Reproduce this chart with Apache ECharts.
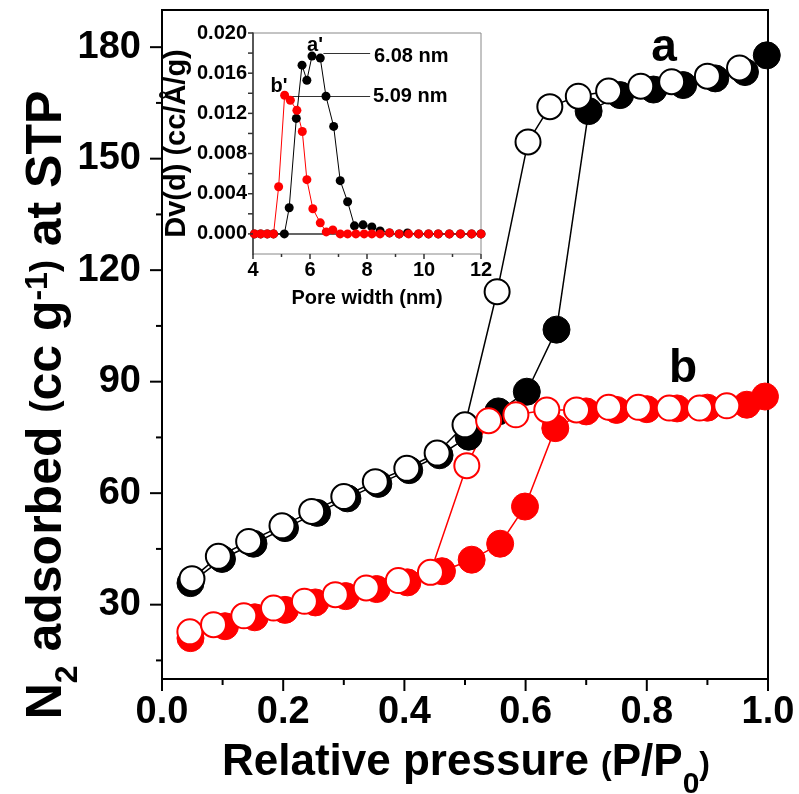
<!DOCTYPE html>
<html>
<head>
<meta charset="utf-8">
<script src="https://cdn.jsdelivr.net/npm/echarts@6/dist/echarts.min.js"></script>
<style>
  html, body { margin: 0; padding: 0; background: #fff; }
  #chart { width: 799px; height: 794px; }
</style>
</head>
<body>
<div id="chart"></div>
<script>
// sample a (black): adsorption = filled, desorption = open
var aAdsP = [0.047,0.099,0.151,0.203,0.256,0.306,0.357,0.408,0.458,0.506,0.555,0.602,0.651,0.704,0.756,0.811,0.86,0.913,0.962,0.998];
var aAdsV = [35.8,42.3,46.4,50.6,54.7,58.6,62.5,66.2,70.2,75.2,82.0,87.3,104.0,162.8,167.1,168.6,169.8,171.6,173.3,177.8];
var aDesP = [0.0495,0.093,0.143,0.198,0.247,0.3,0.352,0.404,0.454,0.5,0.553,0.604,0.64,0.687,0.737,0.79,0.841,0.9,0.953];
var aDesV = [37.0,43.0,47.0,51.2,55.1,59.1,63.1,66.7,70.8,78.4,114.2,154.5,164.0,166.8,168.2,169.5,170.7,172.2,174.4];
// sample b (red)
var bAdsP = [0.047,0.104,0.153,0.203,0.253,0.303,0.354,0.405,0.462,0.511,0.558,0.599,0.649,0.7,0.75,0.8,0.85,0.9,0.965,0.995];
var bAdsV = [21.0,24.2,26.6,28.6,30.6,32.3,34.2,36.0,39.0,42.1,46.4,56.4,77.5,82.0,82.4,82.6,82.8,83.0,83.8,86.0];
var bDesP = [0.046,0.085,0.135,0.184,0.235,0.286,0.337,0.39,0.443,0.503,0.539,0.584,0.635,0.684,0.737,0.786,0.837,0.887,0.932];
var bDesV = [22.7,24.6,27.0,29.1,30.9,32.7,34.5,36.5,38.7,67.4,79.5,81.1,82.4,82.4,83.1,83.1,82.9,82.9,83.5];

// inset: pore size distribution
var poreA = [4.05,4.27,4.5,4.72,5.1,5.27,5.52,5.72,5.89,6.07,6.36,6.56,6.83,7.06,7.32,7.56,7.86,8.17,8.46,8.79,9.13,9.42,9.81,10.16,10.5,10.89,11.28,11.67,12.0];
var dvA   = [0,0,0,0,0,0.0026,0.0115,0.0168,0.0153,0.0177,0.0175,0.0137,0.0107,0.0053,0.0032,0.0008,0.0009,0.0007,0.0003,0.0001,0,0.0001,0,0,0,0,0,0,0];
var poreB = [4.05,4.27,4.5,4.72,4.9,5.11,5.31,5.54,5.73,5.89,6.1,6.36,6.57,6.8,7.06,7.32,7.61,7.9,8.17,8.46,8.79,9.13,9.46,9.81,10.16,10.5,10.89,11.28,11.67,12.0];
var dvB   = [0,0,0,0,0.0047,0.0138,0.0133,0.0123,0.0102,0.0054,0.0025,0.0011,0.0002,0.0004,0,0,0,0,0,0,0.0001,0,0,0,0,0,0,0,0,0];

// tick values
var xMajor = [0,0.2,0.4,0.6,0.8,1.0];
var xMinor = [0.1,0.3,0.5,0.7,0.9];
var yMajor = [30,60,90,120,150,180];
var yMinor = [15,45,75,105,135,165];
var insetXMajor = [4,6,8,10,12];
var insetXMinor = [5,7,9,11];
var insetYLabels = [0,0.004,0.008,0.012,0.016,0.020];
var insetYTicks = [0,0.002,0.004,0.006,0.008,0.010,0.012,0.014,0.016,0.018,0.020];

// arrows in inset: [start x, end x, y]
var arrowA = [6.47, 8.11, 0.0180];
var arrowB = [5.15, 8.11, 0.01373];

function zip(xs, ys) {
    return xs.map(function (x, i) { return [x, ys[i]]; });
}

var FONT = 'Liberation Sans';
var myChart = echarts.init(document.getElementById('chart'));

var labels = [
    {
        type: 'text', x: 52, y: 405, rotation: Math.PI / 2, z: 10,
        style: {
            text: '{t|N}{s|2}{t| adsorbed }{p|(}{t|cc g}{u|-1}{p|)}{t| at STP}',
            align: 'center', verticalAlign: 'middle', fill: '#000',
            rich: {
                t: {fontSize: 50, fontWeight: 'bold', fontFamily: FONT, lineHeight: 60, verticalAlign: 'top'},
                s: {fontSize: 32, fontWeight: 'bold', fontFamily: FONT, lineHeight: 32, verticalAlign: 'top', padding: [30, 0, 0, 0]},
                u: {fontSize: 32, fontWeight: 'bold', fontFamily: FONT, lineHeight: 32, verticalAlign: 'top'},
                p: {fontSize: 36, fontWeight: 'bold', fontFamily: FONT, lineHeight: 60, verticalAlign: 'top', padding: [6, 0, 0, 0]}
            }
        }
    },
    {
        type: 'text', x: 466, y: 768, z: 10,
        style: {
            text: '{t|Relative pressure }{p|(}{t|P/P}{s|0}{p|)}',
            align: 'center', verticalAlign: 'middle', fill: '#000',
            rich: {
                t: {fontSize: 44, fontWeight: 'bold', fontFamily: FONT, lineHeight: 54, verticalAlign: 'top'},
                s: {fontSize: 30, fontWeight: 'bold', fontFamily: FONT, lineHeight: 30, verticalAlign: 'top', padding: [29, 0, 0, 0]},
                p: {fontSize: 32, fontWeight: 'bold', fontFamily: FONT, lineHeight: 54, verticalAlign: 'top', padding: [8, 0, 0, 0]}
            }
        }
    },
    {type: 'text', x: 664, y: 48, z: 10,
        style: {text: 'a', fontSize: 46, fontWeight: 'bold', fontFamily: FONT, fill: '#000', align: 'center', verticalAlign: 'middle'}},
    {type: 'text', x: 683, y: 369, z: 10,
        style: {text: 'b', fontSize: 46, fontWeight: 'bold', fontFamily: FONT, fill: '#000', align: 'center', verticalAlign: 'middle'}},
    {type: 'text', x: 315, y: 45, z: 10,
        style: {text: "a'", fontSize: 20, fontWeight: 'bold', fontFamily: FONT, fill: '#000', align: 'center', verticalAlign: 'middle'}},
    {type: 'text', x: 279, y: 86, z: 10,
        style: {text: "b'", fontSize: 20, fontWeight: 'bold', fontFamily: FONT, fill: '#000', align: 'center', verticalAlign: 'middle'}},
    {type: 'text', x: 374, y: 56, z: 10,
        style: {text: '6.08 nm', fontSize: 20, fontWeight: 'bold', fontFamily: FONT, fill: '#000', align: 'left', verticalAlign: 'middle'}},
    {type: 'text', x: 373, y: 96, z: 10,
        style: {text: '5.09 nm', fontSize: 20, fontWeight: 'bold', fontFamily: FONT, fill: '#000', align: 'left', verticalAlign: 'middle'}}
];

var option = {
    animation: false,
    backgroundColor: '#fff',
    grid: [
        {left: 162, right: 31, top: 10, bottom: 115, show: true, borderColor: '#000', borderWidth: 2},
        {left: 253, right: 318, top: 33, bottom: 540, show: true, borderColor: '#888', borderWidth: 1, backgroundColor: '#fff', z: 5}
    ],
    xAxis: [
        {
            gridIndex: 0, type: 'value', min: 0, max: 1, interval: 0.2,
            axisLine: {show: true, lineStyle: {color: '#000', width: 2}},
            axisTick: {show: false},
            splitLine: {show: false},
            axisLabel: {margin: 15, color: '#000', fontSize: 38, fontWeight: 'bold', fontFamily: FONT,
                formatter: function (v) { return v.toFixed(1); }}
        },
        {
            gridIndex: 1, type: 'value', min: 4, max: 12, interval: 2, z: 6,
            axisLine: {show: true, lineStyle: {color: '#333', width: 1.5}},
            axisTick: {show: false},
            splitLine: {show: false},
            axisLabel: {margin: 6, color: '#000', fontSize: 20, fontWeight: 'bold', fontFamily: FONT},
            name: 'Pore width (nm)', nameLocation: 'middle', nameGap: 34,
            nameTextStyle: {color: '#000', fontSize: 20, fontWeight: 'bold', fontFamily: FONT}
        }
    ],
    yAxis: [
        {
            gridIndex: 0, type: 'value', min: 10, max: 190, position: 'left',
            axisLine: {show: true, lineStyle: {color: '#000', width: 2}},
            axisTick: {show: false},
            splitLine: {show: false},
            axisLabel: {margin: 21, customValues: yMajor, color: '#000', fontSize: 38, fontWeight: 'bold', fontFamily: FONT}
        },
        {
            gridIndex: 1, type: 'value', min: -0.002, max: 0.020, z: 6, position: 'left',
            axisLine: {show: true, lineStyle: {color: '#333', width: 1.5}},
            axisTick: {show: false},
            splitLine: {show: false},
            axisLabel: {margin: 6, customValues: insetYLabels, color: '#000', fontSize: 20, fontWeight: 'bold', fontFamily: FONT,
                formatter: function (v) { return v.toFixed(3); }},
            name: 'Dv(d) (cc/Å/g)', nameLocation: 'middle', nameGap: 62, nameRotate: 90,
            nameTextStyle: {color: '#000', fontSize: 29, fontWeight: 'bold', fontFamily: FONT}
        }
    ],
    series: [
        {
            name: 'a ads', type: 'line', xAxisIndex: 0, yAxisIndex: 0,
            data: zip(aAdsP, aAdsV), symbol: 'circle', symbolSize: 27,
            itemStyle: {color: '#000', borderColor: '#000', borderWidth: 1},
            lineStyle: {color: '#000', width: 1.5}
        },
        {
            name: 'b ads', type: 'line', xAxisIndex: 0, yAxisIndex: 0,
            data: zip(bAdsP, bAdsV), symbol: 'circle', symbolSize: 27,
            itemStyle: {color: '#ff0000', borderColor: '#ff0000', borderWidth: 1},
            lineStyle: {color: '#ff0000', width: 1.5}
        },
        {
            name: 'a des', type: 'line', xAxisIndex: 0, yAxisIndex: 0,
            data: zip(aDesP, aDesV), symbol: 'circle', symbolSize: 25,
            itemStyle: {color: '#fff', borderColor: '#000', borderWidth: 2},
            lineStyle: {color: '#000', width: 1.5}
        },
        {
            name: 'b des', type: 'line', xAxisIndex: 0, yAxisIndex: 0,
            data: zip(bDesP, bDesV), symbol: 'circle', symbolSize: 25,
            itemStyle: {color: '#fff', borderColor: '#ff0000', borderWidth: 2},
            lineStyle: {color: '#ff0000', width: 1.5}
        },
        {
            name: "a'", type: 'line', xAxisIndex: 1, yAxisIndex: 1, z: 7,
            data: zip(poreA, dvA), symbol: 'circle', symbolSize: 9,
            itemStyle: {color: '#000'}, lineStyle: {color: '#000', width: 1},
            markLine: {
                silent: true, symbol: ['none', 'arrow'], symbolSize: [0, 8],
                label: {show: false},
                lineStyle: {color: '#333', width: 1, type: 'solid'},
                data: [
                    [{coord: [arrowA[0], arrowA[2]]}, {coord: [arrowA[1], arrowA[2]]}],
                    [{coord: [arrowB[0], arrowB[2]]}, {coord: [arrowB[1], arrowB[2]]}]
                ]
            }
        },
        {
            name: "b'", type: 'line', xAxisIndex: 1, yAxisIndex: 1, z: 7,
            data: zip(poreB, dvB), symbol: 'circle', symbolSize: 9,
            itemStyle: {color: '#ff0000'}, lineStyle: {color: '#ff0000', width: 1}
        }
    ],
    graphic: labels
};
myChart.setOption(option);

// tick marks, placed through the chart's own scales
function ticks(gridIndex, xs, yBase, ys, xBase, len, color, width) {
    var out = [];
    xs.forEach(function (x) {
        var p = myChart.convertToPixel({gridIndex: gridIndex}, [x, yBase]);
        out.push({type: 'line', z: 20, shape: {x1: p[0], y1: p[1], x2: p[0], y2: p[1] + len},
            style: {stroke: color, lineWidth: width}});
    });
    ys.forEach(function (y) {
        var p = myChart.convertToPixel({gridIndex: gridIndex}, [xBase, y]);
        out.push({type: 'line', z: 20, shape: {x1: p[0] - len, y1: p[1], x2: p[0], y2: p[1]},
            style: {stroke: color, lineWidth: width}});
    });
    return out;
}
var tickEls = []
    .concat(ticks(0, xMajor, 10, yMajor, 0, 12, '#000', 2))
    .concat(ticks(0, xMinor, 10, yMinor, 0, 6, '#000', 2))
    .concat(ticks(1, insetXMajor, -0.002, insetYTicks, 4, 5, '#333', 1.5))
    .concat(ticks(1, insetXMinor, -0.002, [], 4, 3, '#333', 1.5));
myChart.setOption({graphic: labels.concat(tickEls)});
</script>
</body>
</html>
